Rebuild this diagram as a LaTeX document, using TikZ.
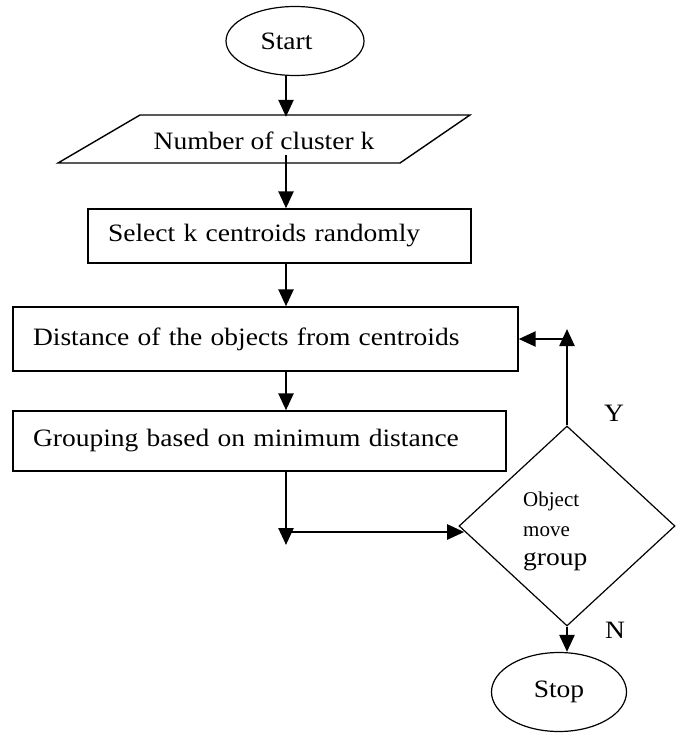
\documentclass[tikz,border=0pt]{standalone}
\usepackage{fontspec}
\setmainfont{Liberation Serif}[FakeStretch=1.1]
\newfontfamily\tfont{Liberation Serif}
\usetikzlibrary{shapes.geometric,arrows.meta,calc}
\begin{document}
\begin{tikzpicture}[x=1pt,y=-1pt,
  every node/.style={font=\fontsize{25}{30}\selectfont},
  box/.style={draw, line width=1.4pt, align=left, inner xsep=20pt, inner ysep=0pt},
  term/.style={draw, ellipse, line width=1.2pt, inner sep=0pt},
  arr/.style={line width=2.5pt, -{Triangle[length=17pt,width=15pt]}},
  small/.style={anchor=base west, inner sep=0pt, font=\fontsize{21}{25}\tfont}]
\fill[white] (0,0) rectangle (678,733);
\useasboundingbox (0,0) rectangle (678,733);

\node[term, minimum width=138pt, minimum height=69pt] (start) at (295,41) {\hspace*{-17pt}Start};
\node[inner sep=0pt, minimum width=330pt, minimum height=48pt] (num) at (264,141) {Number of cluster k};
\draw[line width=1.4pt] (140,115) -- (470,115) -- (400,163) -- (58,163) -- cycle;
\node[box, text width=343pt, minimum height=54pt] (sel) at (279.5,236) {Select k centroids randomly};
\node[box, text width=465pt, minimum height=64pt] (dist) at (265.5,339) {Distance of the objects from centroids};
\node[box, text width=453pt, minimum height=60pt] (grp) at (259.5,441) {Grouping based on minimum distance};
\node[draw, diamond, line width=1.2pt, minimum width=216pt, minimum height=200pt, inner sep=0pt] (dia) at (567,526) {};
\node[small] (d1) at (523,506) {Object};
\node[small] (d2) at (523,536) {move};
\node[anchor=base west, inner sep=0pt] (d3) at (523,565) {group};
\node[term, minimum width=135pt, minimum height=79pt] (stop) at (559,692) {Stop};
\node (ylab) at (614,413) {Y};
\node (nlab) at (615,630) {N};

\coordinate (spine) at (286,0);
\coordinate (j1) at (286,545);
\coordinate (j2) at (286,532);
\coordinate (lt) at (567,329);
\draw[arr] (start.south -| spine) -- (num.north -| spine);
\draw[arr] ($(num.south -| spine)+(0,-10)$) -- (sel.north -| spine);
\draw[arr] (sel.south -| spine) -- (dist.north -| spine);
\draw[arr] (dist.south -| spine) -- (grp.north -| spine);
\draw[arr] (grp.south -| spine) -- (j1);
\draw[arr] (j2) -- (j2 -| dia.183);
\draw[arr] (dia.north) -- (lt);
\draw[arr] (dia.north |- dist.east) -- (dist.east);
\draw[arr] (dia.south) -- (dia.south |- stop.north);
\end{tikzpicture}
\end{document}
